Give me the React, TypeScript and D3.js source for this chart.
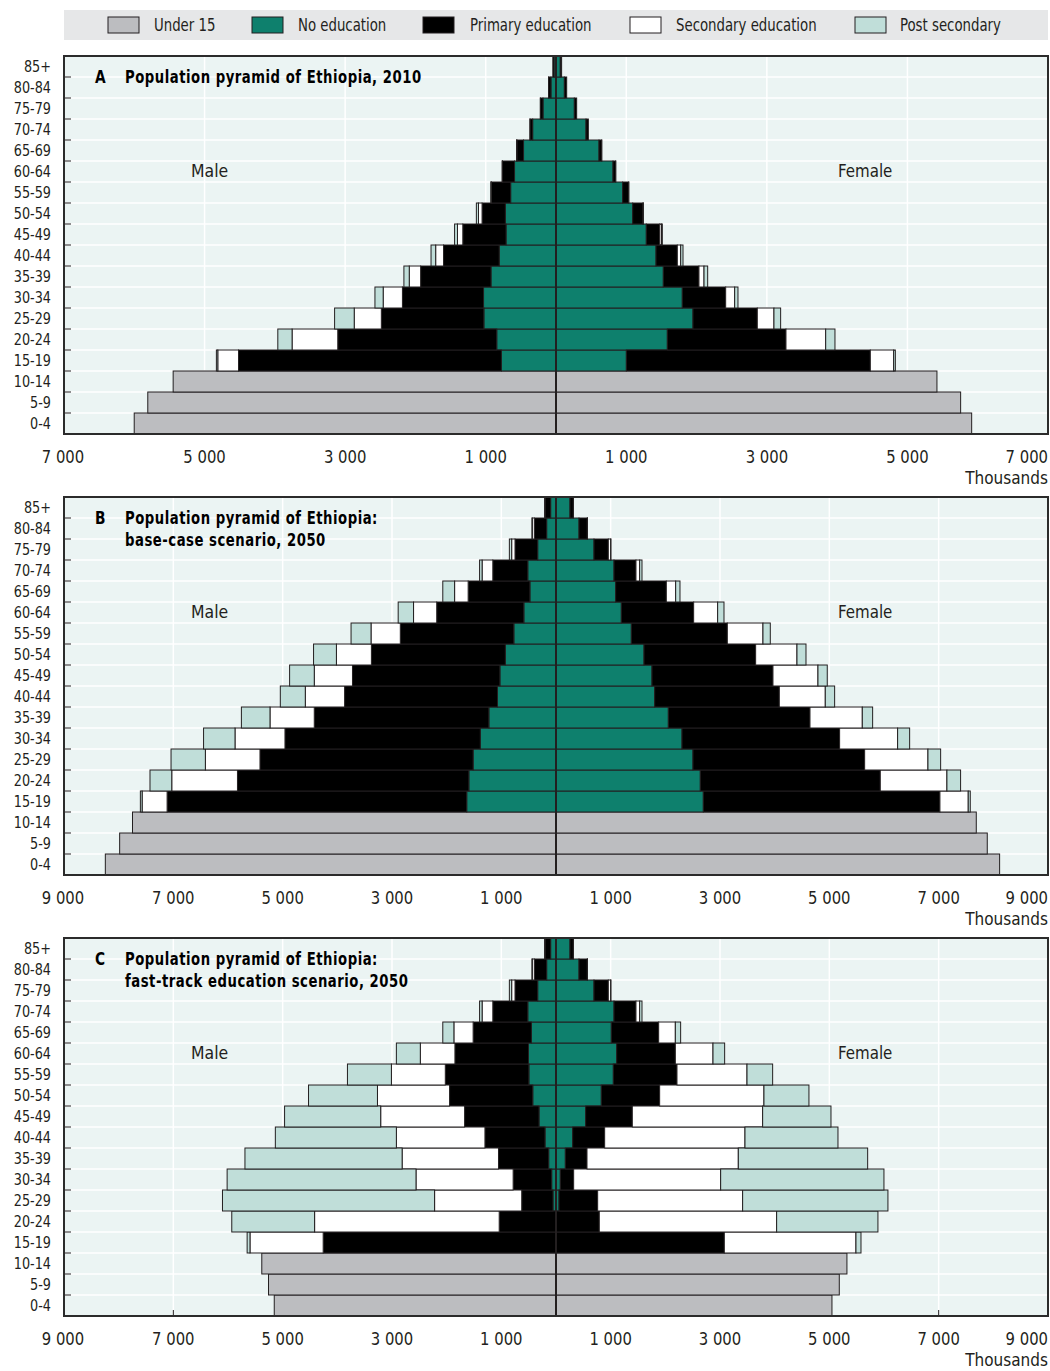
import React from "react";
import * as d3 from "d3";

// ---------- DATA (thousands) ----------
const ages = ["0-4", "5-9", "10-14", "15-19", "20-24", "25-29", "30-34", "35-39", "40-44", "45-49", "50-54", "55-59", "60-64", "65-69", "70-74", "75-79", "80-84", "85+"];
const under15Ages = ages.slice(0, 3);
const eduAges = ages.slice(3);

const legendLabels = ["Under 15", "No education", "Primary education", "Secondary education", "Post secondary"];
const eduKeys = ["noEdu", "primary", "secondary", "post"];

// Panel A: 2010
const aMaleUnder15 = [6001, 5808, 5447];
const aMaleNoEdu = [777, 843, 1026, 1031, 925, 808, 711, 721, 645, 590, 462, 332, 185, 72, 28];
const aMalePrimary = [3740, 2262, 1459, 1154, 1001, 792, 615, 331, 275, 172, 95, 38, 37, 33, 17];
const aMaleSecondary = [295, 650, 386, 274, 162, 112, 76, 51, 4, 2, 2, 1, 1, 1, 0];
const aMalePost = [20, 203, 279, 117, 76, 66, 41, 30, 2, 1, 1, 0, 0, 0, 0];
const aFemaleUnder15 = [5914, 5757, 5420];
const aFemaleNoEdu = [1001, 1584, 1949, 1797, 1527, 1423, 1285, 1091, 948, 811, 612, 427, 261, 119, 61];
const aFemalePrimary = [3471, 1688, 915, 617, 507, 303, 190, 147, 86, 38, 38, 33, 33, 33, 19];
const aFemaleSecondary = [332, 565, 237, 128, 72, 48, 25, 3, 2, 1, 1, 0, 0, 0, 0];
const aFemalePost = [24, 132, 95, 47, 52, 33, 13, 1, 0, 0, 0, 0, 0, 0, 0];

// Panel B: base case 2050
const bMaleUnder15 = [8244, 7982, 7747];
const bMaleNoEdu = [1633, 1594, 1516, 1385, 1228, 1071, 1026, 927, 771, 588, 477, 516, 335, 171, 98];
const bMalePrimary = [5481, 4233, 3899, 3573, 3194, 2796, 2697, 2450, 2077, 1594, 1130, 640, 415, 225, 103];
const bMaleSecondary = [457, 1202, 999, 914, 810, 719, 699, 640, 536, 424, 248, 196, 61, 37, 4];
const bMalePost = [32, 398, 628, 575, 523, 457, 451, 418, 365, 281, 216, 46, 42, 7, 2];
const bFemaleUnder15 = [8115, 7889, 7688];
const bFemaleNoEdu = [2695, 2640, 2506, 2305, 2055, 1805, 1756, 1610, 1378, 1195, 1091, 1061, 695, 421, 256];
const bFemalePrimary = [4328, 3292, 3140, 2883, 2591, 2280, 2213, 2042, 1756, 1323, 927, 402, 262, 152, 61];
const bFemaleSecondary = [518, 1219, 1158, 1061, 957, 841, 823, 756, 652, 439, 171, 67, 43, 2, 1];
const bFemalePost = [37, 250, 232, 220, 189, 171, 170, 165, 134, 116, 79, 43, 5, 1, 0];

// Panel C: fast-track 2050
const cMaleUnder15 = [5154, 5259, 5382];
const cMaleNoEdu = [0, 5, 55, 79, 134, 201, 311, 425, 496, 503, 450, 516, 335, 171, 98];
const cMalePrimary = [4259, 1034, 572, 705, 918, 1099, 1361, 1522, 1529, 1346, 1066, 640, 415, 225, 103];
const cMaleSecondary = [1339, 3377, 1594, 1777, 1763, 1620, 1535, 1319, 986, 633, 352, 196, 61, 37, 4];
const cMalePost = [52, 1515, 3880, 3455, 2875, 2214, 1758, 1261, 804, 438, 203, 46, 42, 7, 2];
const cFemaleUnder15 = [5048, 5182, 5322];
const cFemaleNoEdu = [0, 5, 55, 79, 171, 305, 542, 829, 1049, 1110, 1012, 1061, 695, 421, 256];
const cFemalePrimary = [3079, 787, 707, 244, 396, 585, 854, 1067, 1164, 1073, 866, 402, 262, 152, 61];
const cFemaleSecondary = [2408, 3244, 2652, 2689, 2768, 2567, 2384, 1908, 1281, 689, 305, 67, 43, 2, 1];
const cFemalePost = [92, 1853, 2658, 2987, 2366, 1701, 1250, 823, 469, 213, 97, 43, 5, 1, 0];

const ticksA = [1000, 3000, 5000, 7000];
const ticksBC = [1000, 3000, 5000, 7000, 9000];

// ---------- STYLE ----------
const W = 1050;
const H = 1371;
const X0 = 64;
const X1 = 1048;
const CX = 556;
const PH = 378;
const FONT = "'Liberation Sans Narrow', 'DejaVu Sans Condensed', 'Arial Narrow', sans-serif";
const COLORS: Record<string, string> = {
  under15: "#bcbdc0",
  noEdu: "#0e806d",
  primary: "#000000",
  secondary: "#ffffff",
  post: "#c0ded9",
};
const legendColors = [COLORS.under15, COLORS.noEdu, COLORS.primary, COLORS.secondary, COLORS.post];
const STROKE = "#231f20";
const BG = "#ebf4f3";

const fmt = d3.formatLocale({ decimal: ".", thousands: " ", grouping: [3], currency: ["", ""] }).format(",");

const mk = (noEdu: number[], primary: number[], secondary: number[], post: number[]) =>
  eduAges.map((age, i) => ({ age, noEdu: noEdu[i], primary: primary[i], secondary: secondary[i], post: post[i] }));

const panels = [
  {
    letter: "A",
    title: ["Population pyramid of Ethiopia, 2010"],
    top: 56,
    max: 7000,
    ticks: ticksA,
    maleU15: aMaleUnder15,
    femaleU15: aFemaleUnder15,
    male: mk(aMaleNoEdu, aMalePrimary, aMaleSecondary, aMalePost),
    female: mk(aFemaleNoEdu, aFemalePrimary, aFemaleSecondary, aFemalePost),
  },
  {
    letter: "B",
    title: ["Population pyramid of Ethiopia:", "base-case scenario, 2050"],
    top: 497,
    max: 9000,
    ticks: ticksBC,
    maleU15: bMaleUnder15,
    femaleU15: bFemaleUnder15,
    male: mk(bMaleNoEdu, bMalePrimary, bMaleSecondary, bMalePost),
    female: mk(bFemaleNoEdu, bFemalePrimary, bFemaleSecondary, bFemalePost),
  },
  {
    letter: "C",
    title: ["Population pyramid of Ethiopia:", "fast-track education scenario, 2050"],
    top: 938,
    max: 9000,
    ticks: ticksBC,
    maleU15: cMaleUnder15,
    femaleU15: cFemaleUnder15,
    male: mk(cMaleNoEdu, cMalePrimary, cMaleSecondary, cMalePost),
    female: mk(cFemaleNoEdu, cFemalePrimary, cFemaleSecondary, cFemalePost),
  },
];

type PanelDef = (typeof panels)[number];

// Text narrowed horizontally to imitate a condensed face
function NText({ x, y, s = 0.87, anchor = "start", children, ...rest }: any) {
  return (
    <text transform={`translate(${x},${y}) scale(${s},1)`} textAnchor={anchor} fill="#231f20" {...rest}>
      {children}
    </text>
  );
}

function Panel({ p }: { p: PanelDef }) {
  const top = p.top;
  const bottom = top + PH;
  const y = d3.scaleBand<string>().domain([...ages].reverse()).range([top, bottom]).padding(0);
  const xm = d3.scaleLinear().domain([0, p.max]).range([CX, X0]);
  const xf = d3.scaleLinear().domain([0, p.max]).range([CX, X1]);
  const stack = d3.stack<any>().keys(eduKeys);
  const maleSeries = stack(p.male);
  const femaleSeries = stack(p.female);
  const bw = y.bandwidth();
  const grid = p.ticks.filter((t) => t < p.max);
  const boundaries = ages.slice(1).map((a) => (y(a) as number) + bw);

  const segs: JSX.Element[] = [];
  const addSeries = (series: any[], sx: d3.ScaleLinear<number, number>, side: string) => {
    series.forEach((s) => {
      s.forEach((d: any, i: number) => {
        if (d[1] - d[0] <= 0) return;
        const a = sx(d[0]);
        const b = sx(d[1]);
        segs.push(
          <rect
            key={`${side}-${s.key}-${i}`}
            x={Math.min(a, b)}
            y={y(d.data.age)}
            width={Math.abs(b - a)}
            height={bw}
            fill={COLORS[s.key]}
            stroke={STROKE}
            strokeWidth={1}
          />
        );
      });
    });
  };
  addSeries(maleSeries, xm, "m");
  addSeries(femaleSeries, xf, "f");

  return (
    <g>
      <rect x={X0} y={top} width={X1 - X0} height={PH} fill={BG} />
      {boundaries.map((b, i) => (
        <line key={`hg${i}`} x1={X0} x2={X1} y1={b} y2={b} stroke="#ffffff" strokeWidth={1.5} />
      ))}
      {grid.map((t) => (
        <g key={`vg${t}`}>
          <line x1={xm(t)} x2={xm(t)} y1={top} y2={bottom} stroke="#ffffff" strokeWidth={1.5} />
          <line x1={xf(t)} x2={xf(t)} y1={top} y2={bottom} stroke="#ffffff" strokeWidth={1.5} />
          <line x1={xm(t)} x2={xm(t)} y1={bottom - 6} y2={bottom} stroke={STROKE} strokeWidth={1} />
          <line x1={xf(t)} x2={xf(t)} y1={bottom - 6} y2={bottom} stroke={STROKE} strokeWidth={1} />
        </g>
      ))}
      {boundaries.map((b, i) => (
        <line key={`lt${i}`} x1={X0} x2={X0 + 7} y1={b} y2={b} stroke={STROKE} strokeWidth={1} />
      ))}
      {under15Ages.map((a, i) => (
        <g key={`u${a}`}>
          <rect x={xm(p.maleU15[i])} y={y(a)} width={CX - xm(p.maleU15[i])} height={bw} fill={COLORS.under15} stroke={STROKE} strokeWidth={1} />
          <rect x={CX} y={y(a)} width={xf(p.femaleU15[i]) - CX} height={bw} fill={COLORS.under15} stroke={STROKE} strokeWidth={1} />
        </g>
      ))}
      {segs}
      <line x1={CX} x2={CX} y1={top} y2={bottom} stroke={STROKE} strokeWidth={2} />
      <rect x={X0} y={top} width={X1 - X0} height={PH} fill="none" stroke="#2b2b2b" strokeWidth={2} />
      {ages.map((a) => (
        <NText key={`al${a}`} x={51} y={(y(a) as number) + bw / 2} s={0.95} dy="0.35em" anchor="end" fontSize={15}>
          {a}
        </NText>
      ))}
      <NText x={95} y={top + 27} s={0.9} fontSize={17} fontWeight="bold" fill="#000">
        {p.letter}
      </NText>
      {p.title.map((t, i) => (
        <NText key={`t${i}`} x={125} y={top + 27 + i * 22} s={0.865} fontSize={17} fontWeight="bold" fill="#000" letterSpacing={0.6}>
          {t}
        </NText>
      ))}
      <NText x={191} y={top + 115} s={0.97} dy="0.35em" fontSize={18}>
        Male
      </NText>
      <NText x={838} y={top + 115} s={0.93} dy="0.35em" fontSize={18}>
        Female
      </NText>
      {p.ticks.map((t) => (
        <NText key={`xm${t}`} x={t === p.max ? X0 - 1 : xm(t)} y={bottom + 29} s={0.97} anchor="middle" fontSize={17}>
          {fmt(t)}
        </NText>
      ))}
      {p.ticks.map((t) => (
        <NText key={`xf${t}`} x={t === p.max ? X1 : xf(t)} y={bottom + 29} s={0.97} anchor={t === p.max ? "end" : "middle"} fontSize={17}>
          {fmt(t)}
        </NText>
      ))}
      <NText x={X1} y={bottom + 50} s={1} anchor="end" fontSize={17}>
        Thousands
      </NText>
    </g>
  );
}

const legendSwatchX = [108, 252, 423, 630, 855];
const legendTextX = [154, 298, 470, 676, 900];

export default function App() {
  return (
    <svg width={W} height={H} style={{ position: "absolute", left: 0, top: 0, background: "#ffffff" }} fontFamily={FONT}>
      <rect x={X0} y={10} width={X1 - X0} height={30} fill="#e6e7e8" />
      {legendLabels.map((l, i) => (
        <g key={l}>
          <rect x={legendSwatchX[i]} y={17} width={31} height={16} fill={legendColors[i]} stroke={STROKE} strokeWidth={1} />
          <NText x={legendTextX[i]} y={25} s={0.87} dy="0.35em" fontSize={17}>
            {l}
          </NText>
        </g>
      ))}
      {panels.map((p) => (
        <Panel key={p.letter} p={p} />
      ))}
    </svg>
  );
}
